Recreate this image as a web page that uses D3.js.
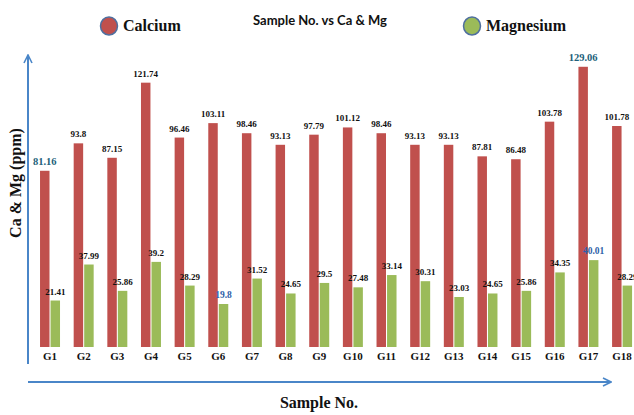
<!DOCTYPE html>
<html><head><meta charset="utf-8">
<script src="https://cdn.jsdelivr.net/npm/d3@7"></script>
<style>body{margin:0;background:#fff}svg{display:block}</style>
</head><body>
<svg id="c" width="634" height="415"></svg>
<script>
const categories = ["G1","G2","G3","G4","G5","G6","G7","G8","G9","G10","G11","G12","G13","G14","G15","G16","G17","G18"];
const calcium = [81.16,93.8,87.15,121.74,96.46,103.11,98.46,93.13,97.79,101.12,98.46,93.13,93.13,87.81,86.48,103.78,129.06,101.78];
const magnesium = [21.41,37.99,25.86,39.2,28.29,19.8,31.52,24.65,29.5,27.48,33.14,30.31,23.03,24.65,25.86,34.35,40.01,28.29];
const seriesNames = ["Calcium","Magnesium"];
const seriesColors = ["#c0504d","#9bbb59"];
const highlightCa = {"G1":"#215f7a","G17":"#215f7a"};
const highlightMg = {"G6":"#2e5fa8","G17":"#2e5fa8"};

const svg = d3.select("#c");
const x0 = d3.scaleBand().domain(categories).range([33.3, 638.8]).paddingInner(0.406).paddingOuter(0.2);
const x1 = d3.scaleBand().domain(seriesNames).range([0, x0.bandwidth()]).paddingInner(0.1);
const y = d3.scaleLinear().domain([0, 146]).range([347, 30]);

const data = [calcium, magnesium];
seriesNames.forEach((s, si) => {
  const g = svg.append("g");
  g.selectAll("rect").data(categories).join("rect")
    .attr("x", d => x0(d) + x1(s))
    .attr("width", x1.bandwidth())
    .attr("y", (d,i) => y(data[si][i]))
    .attr("height", (d,i) => y(0) - y(data[si][i]))
    .attr("fill", seriesColors[si]);
  const hl = si === 0 ? highlightCa : highlightMg;
  g.selectAll("text").data(categories).join("text")
    .attr("x", d => x0(d) + x1(s) + x1.bandwidth()/2)
    .attr("y", (d,i) => y(data[si][i]) - 6)
    .attr("text-anchor", "middle")
    .attr("font-family", "Liberation Serif")
    .attr("font-weight", "bold")
    .attr("font-size", d => hl[d] ? (si===0 ? 10.5 : 9.5) : 9)
    .attr("fill", d => hl[d] || "#111")
    .text((d,i) => data[si][i]);
});

// x tick labels
const xAxis = d3.axisBottom(x0).tickSize(0).tickPadding(0);
const xg = svg.append("g").attr("transform", "translate(0,352)").call(xAxis);
xg.select(".domain").remove();
xg.selectAll("text").attr("font-family","Liberation Serif").attr("font-weight","bold")
  .attr("font-size",11).attr("fill","#111").attr("dy","0.71em");

// arrows
const defs = svg.append("defs");
defs.append("marker").attr("id","arr").attr("viewBox","0 0 10 10").attr("refX",9).attr("refY",5)
  .attr("markerWidth",5).attr("markerHeight",5).attr("orient","auto")
  .append("path").attr("d","M1,1 L9,5 L1,9").attr("fill","none").attr("stroke","#4a86c8").attr("stroke-width",1.6);
svg.append("line").attr("x1",28).attr("y1",364).attr("x2",28).attr("y2",55)
  .attr("stroke","#4a86c8").attr("stroke-width",2).attr("marker-end","url(#arr)");
svg.append("line").attr("x1",28).attr("y1",382).attr("x2",611).attr("y2",382)
  .attr("stroke","#4a86c8").attr("stroke-width",2).attr("marker-end","url(#arr)");

// titles
svg.append("text").attr("x",320).attr("y",25).attr("text-anchor","middle")
  .attr("font-family","Lato").attr("font-weight","bold").attr("font-size",13).attr("fill","#111")
  .text("Sample No. vs Ca & Mg");
svg.append("text").attr("x",319).attr("y",408).attr("text-anchor","middle")
  .attr("font-family","Liberation Serif").attr("font-weight","bold").attr("font-size",16).attr("fill","#111")
  .text("Sample No.");
svg.append("text").attr("transform","translate(21,183) rotate(-90)").attr("text-anchor","middle")
  .attr("font-family","Liberation Serif").attr("font-weight","bold").attr("font-size",16).attr("fill","#111")
  .text("Ca & Mg (ppm)");

// legend
const legX = [109, 472];
seriesNames.forEach((s, i) => {
  svg.append("ellipse").attr("cx",legX[i]).attr("cy",26).attr("rx",8.5).attr("ry",9)
    .attr("fill",seriesColors[i]).attr("stroke","#4f6f9f").attr("stroke-width",1.5);
  svg.append("text").attr("x",legX[i]+14).attr("y",31)
    .attr("font-family","Liberation Serif").attr("font-weight","bold").attr("font-size",16).attr("fill","#111")
    .text(s);
});
</script>
</body></html>
